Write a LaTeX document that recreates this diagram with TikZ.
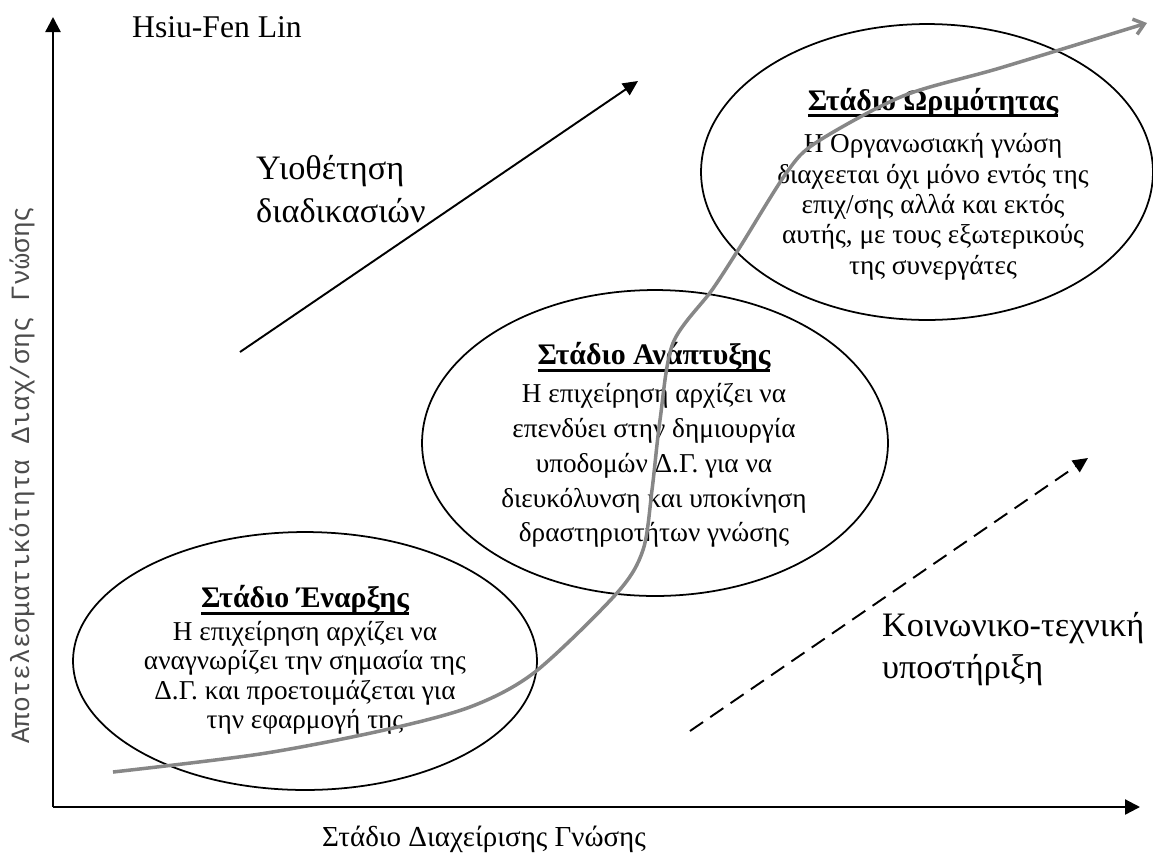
\documentclass[tikz,border=0pt]{standalone}
\usepackage{fontspec}
\setmainfont{Liberation Serif}
\newfontfamily\axisfont{Liberation Mono}
\definecolor{curveGray}{RGB}{135,135,135}
\usetikzlibrary{arrows.meta,shapes.geometric}
\newcommand\stagetitle[1]{{\fontsize{17}{19}\selectfont\bfseries
  \setbox0\hbox{#1}\rlap{\vrule height -2.3pt depth 4pt width \wd0}\box0}}

\begin{document}
\begin{tikzpicture}[x=0.02cm,y=-0.02cm,
    stage/.style={draw,ellipse,line width=1pt,inner sep=0pt,outer sep=0pt},
    body/.style={align=center},
    lbl/.style={align=left,anchor=west,font=\fontsize{19.5}{24}\selectfont},
    axis/.style={line width=1.3pt,-{Triangle[length=0.3cm,width=0.3cm]}},
    trend/.style={line width=1.1pt,-{Triangle[length=0.3cm,width=0.28cm]}},
    scurve/.style={draw=curveGray,line width=2pt,-{Straight Barb[length=0.2cm,width=0.32cm]}},
  ]
    \useasboundingbox (0,0) rectangle (1153,860);

    % Axes
    \coordinate (origin) at (53,807);
    \coordinate (ytop) at (53,17);
    \coordinate (xend) at (1140,807);
    \draw[axis] (origin) -- (ytop);
    \draw[axis] (origin) -- (xend);
    \node[font=\fontsize{16.5}{20}\selectfont] (xlabel) at (484,839)
      {Στάδιο Διαχείρισης Γνώσης};
    \node[rotate=90,font=\axisfont\fontsize{15}{18}\selectfont,text=black!70] (ylabel)
      at (22,475) {Αποτελεσματικότητα Διαχ/σης Γνώσης};
    \node[lbl,font=\fontsize{18}{21.5}\selectfont] (author) at (126,27) {Hsiu-Fen Lin};

    % Stages
    \node[stage,minimum width=9.28cm,minimum height=5.16cm] (e1) at (305,661) {};
    \node[stage,minimum width=9.32cm,minimum height=6.12cm] (e2) at (655,443) {};
    \node[stage,minimum width=9.04cm,minimum height=5.92cm] (e3) at (927,172) {};

    \node[body,font=\fontsize{15.5}{16.7}\selectfont] (t1) at (305,660)
      {\stagetitle{Στάδιο Έναρξης}\\[2pt]
       Η επιχείρηση αρχίζει να\\ αναγνωρίζει την σημασία της\\
       Δ.Γ. και προετοιμάζεται για\\ την εφαρμογή της};
    \node[body,font=\fontsize{15.5}{19.8}\selectfont] (t2) at (654,445)
      {\stagetitle{Στάδιο Ανάπτυξης}\\[2pt]
       Η επιχείρηση αρχίζει να\\ επενδύει στην δημιουργία\\
       υποδομών Δ.Γ. για να\\ διευκόλυνση και υποκίνηση\\
       δραστηριοτήτων γνώσης};
    \node[body,font=\fontsize{15.5}{17.3}\selectfont] (t3) at (933,184)
      {\stagetitle{Στάδιο Ωριμότητας}\\[7pt]
       Η Οργανωσιακή γνώση\\ διαχεεται όχι μόνο εντός της\\
       επιχ/σης αλλά και εκτός\\ αυτής, με τους εξωτερικούς\\
       της συνεργάτες};

    % Side labels and arrows
    \node[lbl] (adopt) at (250,189) {Υιοθέτηση\\διαδικασιών};
    \node[lbl] (socio) at (876,649) {Κοινωνικο-τεχνική\\υποστήριξη};
    \coordinate (a1) at (240,352);
    \coordinate (a2) at (638,81);
    \draw[trend] (a1) -- (a2);
    \coordinate (b1) at (690,731);
    \coordinate (b2) at (1088,458);
    \draw[trend,dashed,dash pattern=on 9pt off 5pt] (b1) -- (b2);

    % S-curve
    \draw[scurve] plot[smooth,tension=0.5] coordinates {(113,772) (260,754) (380,731)
      (470,707) (535,672) (617,593) (643,550) (652,490) (660,420) (673,343) (712,290)
      (740,247) (787,172) (817,142) (903,96) (1000,68) (1147,23)};

\end{tikzpicture}
\end{document}
